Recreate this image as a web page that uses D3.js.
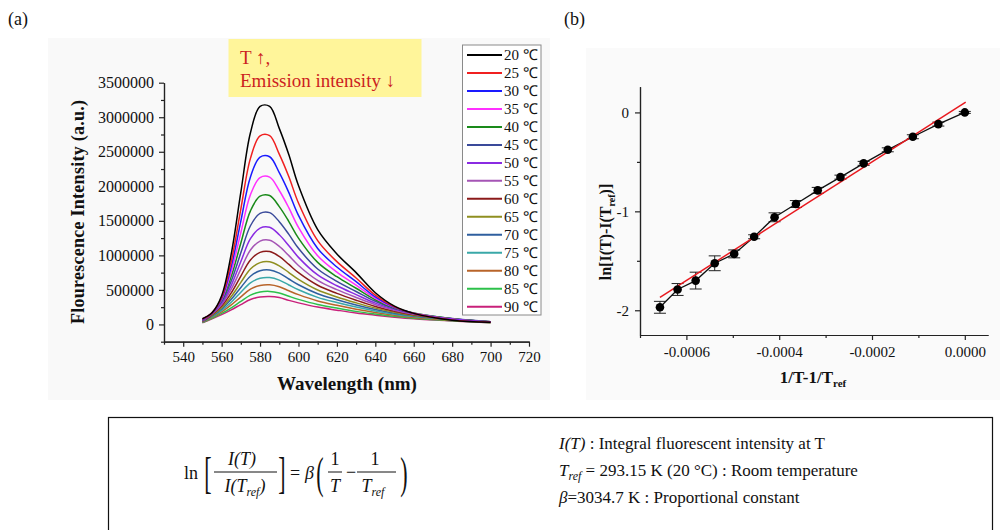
<!DOCTYPE html>
<html>
<head>
<meta charset="utf-8" />
<title>Temperature dependent fluorescence</title>
<style>
  body { margin: 0; background: #fff; }
  svg text { font-family: "Liberation Serif", "Times New Roman", serif; fill: #111; }
  .axis path, .axis line { stroke: #222; stroke-width: 1.2; }
  .axis text { font-family: "Liberation Serif", "Times New Roman", serif; font-size: 15px; fill: #111; }
  .title { font-weight: bold; }
</style>
</head>
<body>
<script src="https://cdn.jsdelivr.net/npm/d3@7/dist/d3.min.js"></script>
<script>

// ---- panel (a): emission spectra, intensity in 1000 a.u. ----
const wavelengths = [550, 555, 560, 565, 570, 575, 580, 585, 590, 595, 600, 610, 620, 630, 640, 650, 660, 680, 700]
const temps = ['20', '25', '30', '35', '40', '45', '50', '55', '60', '65', '70', '75', '80', '85', '90']
const seriesColors = ['#000000', '#f02020', '#1a1aff', '#ff30ff', '#1a8a1a', '#3a4a9a', '#8a2be2', '#a555b5',
                      '#8b1a1a', '#8f8f20', '#2f5f9f', '#3aa8a8', '#b8642a', '#2cc04a', '#c8207a']

const i20 = [83, 169, 415, 1021, 1914, 2775, 3158, 3158, 2839, 2456, 2010, 1372, 1021, 750, 459, 265, 160, 61, 30]
const i25 = [76, 167, 389, 911, 1671, 2404, 2731, 2734, 2466, 2138, 1758, 1213, 909, 673, 423, 254, 159, 66, 32]
const i30 = [71, 166, 372, 833, 1497, 2136, 2423, 2428, 2198, 1909, 1578, 1100, 831, 619, 398, 247, 159, 71, 35]
const i35 = [67, 168, 360, 761, 1330, 1878, 2125, 2132, 1939, 1688, 1406, 994, 757, 569, 378, 243, 162, 78, 37]
const i40 = [63, 169, 348, 696, 1180, 1645, 1857, 1866, 1706, 1490, 1250, 898, 691, 524, 358, 239, 165, 83, 40]
const i45 = [59, 165, 330, 629, 1037, 1429, 1608, 1619, 1488, 1304, 1102, 803, 624, 477, 335, 230, 162, 85, 40]
const i50 = [54, 158, 308, 566, 911, 1242, 1395, 1407, 1299, 1140, 971, 716, 560, 432, 309, 218, 156, 84, 40]
const i55 = [49, 151, 289, 510, 800, 1078, 1207, 1219, 1131, 996, 854, 638, 504, 391, 286, 206, 149, 83, 39]
const i60 = [45, 142, 266, 456, 700, 934, 1044, 1055, 984, 869, 749, 567, 450, 351, 261, 191, 140, 79, 37]
const i65 = [41, 131, 242, 404, 608, 803, 895, 907, 849, 751, 652, 498, 398, 313, 236, 175, 130, 74, 35]
const i70 = [37, 123, 224, 363, 535, 698, 777, 788, 742, 658, 575, 445, 358, 282, 217, 163, 122, 71, 33]
const i75 = [33, 113, 204, 322, 466, 602, 668, 678, 642, 571, 502, 392, 317, 251, 195, 149, 113, 66, 31]
const i80 = [30, 102, 182, 282, 399, 510, 564, 574, 546, 487, 431, 340, 277, 221, 174, 134, 102, 60, 28]
const i85 = [26, 90, 159, 241, 335, 425, 469, 478, 456, 408, 363, 289, 237, 189, 151, 117, 90, 53, 25]
const i90 = [23, 81, 142, 211, 288, 360, 397, 405, 389, 348, 312, 251, 207, 166, 134, 105, 81, 49, 23]
const spectra = [i20, i25, i30, i35, i40, i45, i50, i55, i60, i65, i70, i75, i80, i85, i90]

const xTicksA = [540, 560, 580, 600, 620, 640, 660, 680, 700, 720]
const yTicksA = [0, 500, 1000, 1500, 2000, 2500, 3000, 3500]

// ---- panel (b): ln ratio vs 1/T - 1/Tref ----
const invT = [-0.000657, -0.000619, -0.000580, -0.000539, -0.000497, -0.000454, -0.000410, -0.000364,
              -0.000317, -0.000268, -0.000218, -0.000166, -0.000112, -0.000057, 0]
const lnRatio = [-1.97, -1.79, -1.70, -1.525, -1.43, -1.257, -1.06, -0.926, -0.788, -0.654, -0.515, -0.378, -0.246, -0.118, 0]
const lnErr = [0.06, 0.06, 0.085, 0.075, 0.04, 0.02, 0.045, 0.035, 0.03, 0.02, 0.02, 0.02, 0.02, 0.02, 0.01]
const fitX = [-0.000657, 0.000002]
const fitY = [-1.87, 0.105]
const xTicksB = [-0.0006, -0.0004, -0.0002, 0]
const yTicksB = [0, -1, -2]

const serif = '"Liberation Serif", "Times New Roman", serif'

const svg = d3.select('body').append('svg')
    .attr('width', 1000).attr('height', 530)

// faint grey backdrops of the two original plots
svg.append('rect').attr('x', 48).attr('y', 38).attr('width', 502).attr('height', 362).attr('fill', '#f9f9f9')
svg.append('rect').attr('x', 586).attr('y', 48).attr('width', 414).attr('height', 352).attr('fill', '#fafafa')

svg.append('text').attr('x', 8).attr('y', 25).style('font-size', '18px').text('(a)')
svg.append('text').attr('x', 564).attr('y', 25).style('font-size', '18px').text('(b)')

function serifTicks(g, size) {
    g.attr('font-family', null).attr('font-size', null)
    g.selectAll('text').style('font-family', serif).style('font-size', size + 'px')
}

// ================= panel (a) =================
const xA = d3.scaleLinear().domain([530, 720]).range([164, 529])
const yA = d3.scaleLinear().domain([-250, 3500]).range([341.7, 82.7])

const gA = svg.append('g')

gA.append('g').attr('class', 'axis')
    .attr('transform', `translate(0, ${yA(-250)})`)
    .call(d3.axisBottom(xA).tickValues(xTicksA).tickSize(5).tickSizeOuter(0).tickPadding(5))
    .call(g => serifTicks(g, 15))
gA.append('g').attr('class', 'axis')
    .attr('transform', `translate(0, ${yA(-250)})`)
    .call(d3.axisBottom(xA).tickValues(xTicksA.map(d => d - 10)).tickSize(3).tickSizeOuter(0).tickFormat(''))

gA.append('g').attr('class', 'axis')
    .attr('transform', `translate(${xA(530)}, 0)`)
    .call(d3.axisLeft(yA).tickValues(yTicksA).tickSize(5).tickSizeOuter(0).tickPadding(5)
        .tickFormat(d => String(d * 1000)))
    .call(g => serifTicks(g, 16))
gA.append('g').attr('class', 'axis')
    .attr('transform', `translate(${xA(530)}, 0)`)
    .call(d3.axisLeft(yA).tickValues(yTicksA.map(d => d - 250)).tickSize(3).tickSizeOuter(0).tickFormat(''))

const line = d3.line()
    .x((d, i) => xA(wavelengths[i]))
    .y(d => yA(d))
    .curve(d3.curveCatmullRom.alpha(0.5))

gA.selectAll('path.spec')
    .data(spectra.slice().reverse())
    .enter().append('path')
    .attr('class', 'spec')
    .attr('d', d => line(d))
    .attr('fill', 'none')
    .attr('stroke', (d, i) => seriesColors[spectra.length - 1 - i])
    .attr('stroke-width', 1.5)

gA.append('text').attr('class', 'title')
    .attr('x', 347).attr('y', 390)
    .attr('text-anchor', 'middle')
    .style('font-size', '19px')
    .text('Wavelength (nm)')

gA.append('text').attr('class', 'title')
    .attr('transform', 'translate(84, 212) rotate(-90)')
    .attr('text-anchor', 'middle')
    .attr('textLength', 224).attr('lengthAdjust', 'spacing')
    .style('font-size', '18px')
    .text('Flourescence Intensity (a.u.)')

// annotation
gA.append('rect').attr('x', 228.5).attr('y', 39).attr('width', 193).attr('height', 58).attr('fill', '#fff59a')
gA.append('text').attr('x', 240).attr('y', 64).style('font-size', '19px').style('fill', '#cc1f1f').text('T ↑,')
gA.append('text').attr('x', 240).attr('y', 87).style('font-size', '19px').style('fill', '#cc1f1f').text('Emission intensity ↓')

// legend
const legend = gA.append('g')
legend.append('rect').attr('x', 462.5).attr('y', 45).attr('width', 78.5).attr('height', 270)
    .attr('fill', '#fff').attr('stroke', '#8a8a8a').attr('stroke-width', 1)
const items = legend.selectAll('g.item').data(temps).enter().append('g')
    .attr('class', 'item')
    .attr('transform', (d, i) => `translate(0, ${55 + i * 17.98})`)
items.append('line').attr('x1', 467).attr('x2', 502).attr('y1', 0).attr('y2', 0)
    .attr('stroke', (d, i) => seriesColors[i]).attr('stroke-width', 2)
items.append('text').attr('x', 504).attr('y', 5).style('font-size', '15px').text(d => d + ' ℃')

// ================= panel (b) =================
const xB = d3.scaleLinear().domain([-0.0007, 0.00005]).range([640, 988])
const yB = d3.scaleLinear().domain([-2.25, 0.26]).range([335, 86.7])

const gB = svg.append('g')

gB.append('g').attr('class', 'axis')
    .attr('transform', `translate(0, ${yB(-2.25)})`)
    .call(d3.axisBottom(xB).tickValues(xTicksB).tickSize(5).tickSizeOuter(0).tickPadding(6)
        .tickFormat(d => d.toFixed(4)))
    .call(g => serifTicks(g, 15))
gB.append('g').attr('class', 'axis')
    .attr('transform', `translate(0, ${yB(-2.25)})`)
    .call(d3.axisBottom(xB).tickValues(xTicksB.map(d => d - 0.0001)).tickSize(3).tickSizeOuter(0).tickFormat(''))

gB.append('g').attr('class', 'axis')
    .attr('transform', `translate(${xB(-0.0007)}, 0)`)
    .call(d3.axisLeft(yB).tickValues(yTicksB).tickSize(5).tickSizeOuter(0).tickPadding(6)
        .tickFormat(d => String(d)))
    .call(g => serifTicks(g, 15))
gB.append('g').attr('class', 'axis')
    .attr('transform', `translate(${xB(-0.0007)}, 0)`)
    .call(d3.axisLeft(yB).tickValues(yTicksB.slice(1).map(d => d + 0.5)).tickSize(3).tickSizeOuter(0).tickFormat(''))

const pts = invT.map((x, i) => ({ x: x, y: lnRatio[i], e: lnErr[i] }))

// error bars
const eb = gB.selectAll('g.err').data(pts).enter().append('g').attr('class', 'err')
eb.append('line')
    .attr('x1', d => xB(d.x)).attr('x2', d => xB(d.x))
    .attr('y1', d => yB(d.y - d.e)).attr('y2', d => yB(d.y + d.e))
    .attr('stroke', '#222').attr('stroke-width', 1)
eb.selectAll('line.cap').data(d => [[d.x, d.y - d.e], [d.x, d.y + d.e]]).enter().append('line')
    .attr('class', 'cap')
    .attr('x1', d => xB(d[0]) - 6).attr('x2', d => xB(d[0]) + 6)
    .attr('y1', d => yB(d[1])).attr('y2', d => yB(d[1]))
    .attr('stroke', '#222').attr('stroke-width', 1)

gB.append('path')
    .attr('d', d3.line().x(d => xB(d.x)).y(d => yB(d.y))(pts))
    .attr('fill', 'none').attr('stroke', '#111').attr('stroke-width', 1.3)

gB.append('path')
    .attr('d', d3.line().x(d => xB(d[0])).y(d => yB(d[1]))(fitX.map((x, i) => [x, fitY[i]])))
    .attr('fill', 'none').attr('stroke', '#e8191f').attr('stroke-width', 1.5)

gB.selectAll('circle.pt').data(pts).enter().append('circle')
    .attr('class', 'pt')
    .attr('cx', d => xB(d.x)).attr('cy', d => yB(d.y)).attr('r', 4.3)
    .attr('fill', '#000')

const xt = gB.append('text').attr('class', 'title')
    .attr('x', 813).attr('y', 383).attr('text-anchor', 'middle').style('font-size', '17px')
xt.append('tspan').text('1/T-1/T')
xt.append('tspan').attr('dy', 4).style('font-size', '11px').text('ref')

const yt = gB.append('text').attr('class', 'title')
    .attr('transform', 'translate(611, 232) rotate(-90)')
    .attr('text-anchor', 'middle').style('font-size', '16px')
yt.append('tspan').text('ln[I(T)-I(T')
yt.append('tspan').attr('dy', 4).style('font-size', '10px').text('ref')
yt.append('tspan').attr('dy', -4).text(')]')

// ================= equation box =================
const gE = svg.append('g')
gE.append('rect').attr('x', 108.5).attr('y', 417.5).attr('width', 884).attr('height', 140)
    .attr('fill', 'none').attr('stroke', '#111').attr('stroke-width', 1.2)

function txt(x, y, s, size, italic, anchor) {
    return gE.append('text').attr('x', x).attr('y', y)
        .attr('text-anchor', anchor || 'start')
        .style('font-size', size + 'px')
        .style('font-style', italic ? 'italic' : 'normal')
        .text(s)
}
function bar(x1, x2, y) {
    gE.append('line').attr('x1', x1).attr('x2', x2).attr('y1', y).attr('y2', y)
        .attr('stroke', '#111').attr('stroke-width', 1)
}
function big(x, s) {
    gE.append('text').attr('transform', `translate(${x}, 488) scale(0.5, 1)`)
        .attr('text-anchor', 'middle').style('font-size', '44px').text(s)
}

txt(184, 479, 'ln', 18)
big(208, '[')
txt(242, 465, 'I(T)', 18, true, 'middle')
bar(214, 277, 472)
const den = txt(245, 492, 'I(T', 18, true, 'middle')
den.append('tspan').attr('dy', 4).style('font-size', '12px').text('ref')
den.append('tspan').attr('dy', -4).text(')')
big(282, ']')
txt(290, 479, '=', 18)
txt(305, 479, 'β', 18, true)
big(320, '(')
txt(335, 465, '1', 18, false, 'middle')
bar(328, 342, 472)
txt(335, 492, 'T', 18, true, 'middle')
txt(346, 478, '−', 18)
txt(375, 465, '1', 18, false, 'middle')
bar(357, 396, 472)
const den2 = txt(373, 492, 'T', 18, true, 'middle')
den2.append('tspan').attr('dy', 4).style('font-size', '12px').text('ref')
big(404, ')')

const l1 = txt(559, 449, 'I(T)', 17, true)
l1.append('tspan').style('font-style', 'normal').text(' : Integral fluorescent intensity at T')
const l2 = txt(559, 476, 'T', 17, true)
l2.append('tspan').attr('dy', 4).style('font-size', '12px').text('ref')
l2.append('tspan').attr('dy', -4).style('font-style', 'normal').text(' = 293.15 K (20 °C) : Room temperature')
const l3 = txt(559, 503, 'β', 17, true)
l3.append('tspan').style('font-style', 'normal').text('=3034.7 K : Proportional constant')

</script>
</body>
</html>
